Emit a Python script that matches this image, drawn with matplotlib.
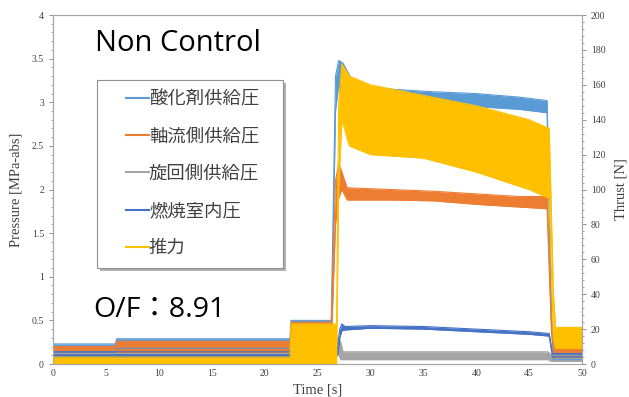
import numpy as np
import matplotlib
matplotlib.use('Agg')
import matplotlib.pyplot as plt
from matplotlib.lines import Line2D
from matplotlib.patches import Rectangle

# envelope (lower / upper) of each noisy signal
ox_t = [0, 5.9, 6.0, 22.4, 22.5, 26.3, 26.7, 27.0, 27.4, 28.5, 32, 36, 40, 44, 46.7, 47.1, 47.3, 50]
ox_lo = [0.14, 0.14, 0.18, 0.18, 0.22, 0.22, 2.9, 3.2, 3.05, 3.02, 3.0, 2.98, 2.95, 2.92, 2.88, 0.5, 0.05, 0.05]
ox_hi = [0.23, 0.23, 0.29, 0.29, 0.5, 0.5, 3.3, 3.48, 3.45, 3.2, 3.15, 3.12, 3.1, 3.06, 3.02, 0.6, 0.22, 0.22]

ax_t = [0, 5.9, 6.0, 22.4, 22.5, 26.3, 26.7, 27.0, 27.3, 27.8, 32, 36, 40, 44, 46.7, 47.1, 47.3, 50]
ax_lo = [0.12, 0.12, 0.13, 0.13, 0.2, 0.2, 1.6, 1.9, 2.0, 1.88, 1.88, 1.87, 1.83, 1.8, 1.78, 0.4, 0.08, 0.08]
ax_hi = [0.2, 0.2, 0.26, 0.26, 0.48, 0.48, 2.1, 2.3, 2.2, 2.02, 2.0, 1.98, 1.95, 1.92, 1.92, 0.5, 0.2, 0.2]

sw_t = [0, 22.4, 22.5, 27.0, 27.2, 27.4, 30, 40, 46.8, 47.1, 50]
sw_lo = [0.06, 0.06, 0.1, 0.1, 0.05, 0.05, 0.05, 0.05, 0.05, 0.03, 0.03]
sw_hi = [0.12, 0.12, 0.3, 0.3, 0.25, 0.14, 0.14, 0.14, 0.14, 0.1, 0.1]

ch_t = [0, 22.4, 22.5, 26.9, 27.1, 27.3, 27.6, 30, 35, 40, 45, 46.9, 47.2, 50]
ch_lo = [0.08, 0.08, 0.1, 0.1, 0.3, 0.38, 0.39, 0.41, 0.4, 0.37, 0.34, 0.32, 0.08, 0.08]
ch_hi = [0.14, 0.14, 0.2, 0.2, 0.4, 0.46, 0.43, 0.44, 0.43, 0.4, 0.37, 0.35, 0.12, 0.12]

th_t = [0, 22.4, 22.5, 26.8, 27.0, 27.3, 28, 30, 35, 40, 45, 46.9, 47.3, 47.5, 50]
th_lo = [0, 0, 0, 0, 100, 140, 125, 120, 118, 110, 100, 95, 15, 9, 9]
th_hi = [4, 4, 23, 23, 150, 172, 165, 160, 154, 148, 140, 135, 40, 21, 21]

labels = ['酸化剤供給圧', '軸流側供給圧', '旋回側供給圧', '燃焼室内圧', '推力']
colors = ['#5B9BD5', '#ED7D31', '#A5A5A5', '#4472C4', '#FFC000']

SERIF = 'Liberation Serif'
CJK = ['Noto Sans CJK JP', 'DejaVu Sans']

fig = plt.figure(figsize=(6.29, 3.97), dpi=100)
ax = fig.add_axes([0.0843, 0.0831, 0.841, 0.879])
ax2 = ax.twinx()


def band(axis, t, lo, hi, c):
    axis.fill_between(t, lo, hi, color=c, lw=0)
    axis.plot(t, lo, c=c, lw=0.8)
    axis.plot(t, hi, c=c, lw=0.8)


band(ax, ox_t, ox_lo, ox_hi, colors[0])
band(ax, ax_t, ax_lo, ax_hi, colors[1])
band(ax, sw_t, sw_lo, sw_hi, colors[2])
band(ax, ch_t, ch_lo, ch_hi, colors[3])
band(ax2, th_t, th_lo, th_hi, colors[4])

ax.set_xlim(0, 50)
ax.set_ylim(0, 4)
ax2.set_ylim(0, 200)
ax.set_xticks(np.arange(0, 51, 5))
ax.set_yticks(np.arange(0, 4.01, 0.5))
ax.set_yticks(np.arange(0, 4.01, 0.1), minor=True)
ax2.set_yticks(np.arange(0, 201, 20))
ax2.set_yticks(np.arange(0, 201, 4), minor=True)
ax.set_yticklabels(['0', '0.5', '1', '1.5', '2', '2.5', '3', '3.5', '4'])

for a in (ax, ax2):
    for s in a.spines.values():
        s.set_color('#A6A6A6')
        s.set_linewidth(0.8)
    a.tick_params(which='both', colors='#808080', labelcolor='#404040', labelsize=7)
    a.tick_params(which='major', length=3, width=0.6)
    a.tick_params(which='minor', length=1.5, width=0.5)
    for lab in a.get_xticklabels() + a.get_yticklabels():
        lab.set_family(SERIF)
ax.tick_params(axis='x', length=0)

ax.set_xlabel('Time [s]', family=SERIF, fontsize=10.5, color='#404040', labelpad=4)
ax.set_ylabel('Pressure [MPa-abs]', family=SERIF, fontsize=10.5, color='#404040', labelpad=7)
ax2.set_ylabel('Thrust [N]', family=SERIF, fontsize=10.5, color='#404040', labelpad=6)

ax2.text(0.079, 0.897, 'Non Control', transform=ax2.transAxes, fontsize=21,
         family='Open Sans', color='black', va='baseline', zorder=10)
ax2.text(0.076, 0.135, 'O/F：8.91', transform=ax2.transAxes, fontsize=20.5,
         family=['Open Sans', 'Noto Sans CJK JP'], color='black', va='baseline', zorder=10)

# legend box with shadow
x0, y0, w, h = 0.083, 0.275, 0.352, 0.539
ax2.add_patch(Rectangle((x0 + 0.005, y0 - 0.009), w, h, transform=ax2.transAxes,
                        facecolor='#B0B0B0', edgecolor='none', zorder=8))
ax2.add_patch(Rectangle((x0, y0), w, h, transform=ax2.transAxes,
                        facecolor='white', edgecolor='#909090', lw=0.8, zorder=9))
handles = [Line2D([], [], color=c, lw=1.5) for c in colors]
leg = ax2.legend(handles, labels, loc='upper left', bbox_to_anchor=(0.138, 0.783),
                 frameon=False, prop={'family': CJK, 'size': 13.2},
                 handlelength=1.25, handletextpad=0.0, labelspacing=1.04,
                 borderpad=0, borderaxespad=0)
leg.set_zorder(11)
for txt in leg.get_texts():
    txt.set_color('#404040')

fig.savefig('out.png', dpi=100)
